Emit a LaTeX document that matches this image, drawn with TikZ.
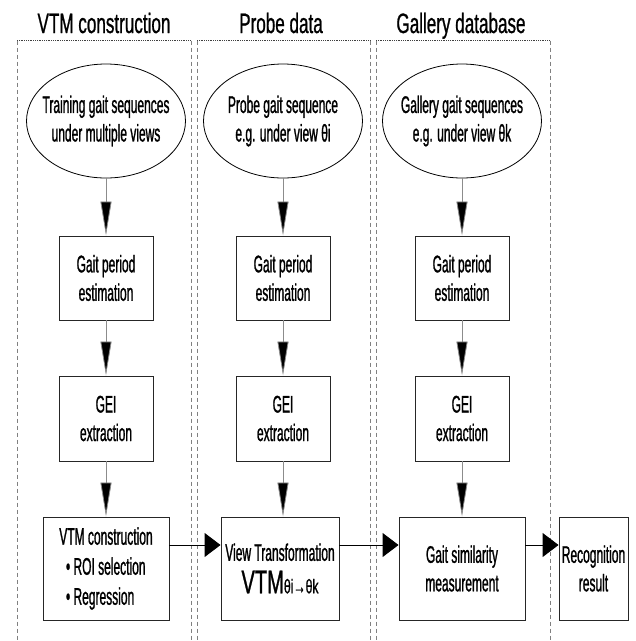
\documentclass[tikz,border=0pt]{standalone}
\usepackage{fontspec}
\setmainfont{Liberation Sans}[FakeStretch=0.5,FakeBold=1]
\newfontfamily\titlefont{Liberation Sans}[FakeStretch=0.61,FakeBold=0.8]
\usetikzlibrary{shapes.geometric,arrows.meta}

\begin{document}
\begin{tikzpicture}[x=1pt,y=-1pt,font=\fontsize{24}{28.5}\selectfont,
		paneltop/.style={black!75,densely dotted,line width=0.8pt},
		panelside/.style={black!50,dash pattern=on 4pt off 3pt,line width=0.8pt},
		title/.style={anchor=base,font=\titlefont\fontsize{28}{30}\selectfont},
		source/.style={ellipse,draw,line width=0.8pt,align=center,minimum width=159pt,minimum height=114pt,inner xsep=-12pt,inner ysep=0pt},
		stage/.style={draw=black!85,line width=0.9pt,align=center,inner sep=2pt},
		small/.style={stage,minimum width=94pt,minimum height=84pt},
		wide/.style={stage,minimum width=126pt,minimum height=103pt},
		down/.style={draw=black!45,line width=0.8pt,-{Triangle[length=34pt,width=11pt,fill=black]}},
		across/.style={draw=black,line width=0.9pt,-{Triangle[length=16pt,width=24pt]}}]
		\useasboundingbox (0,0) rectangle (636,641);
		% Define panels
		\foreach \l/\r in {17/191,197/370,376/550}{
			\draw[paneltop] (\l,40.5) -- (\r,40.5);
			\draw[panelside] (\l,40.5) -- (\l,641);
			\draw[panelside] (\r,40.5) -- (\r,641);
		}
		\node[title] (ttrain) at (104,33) {VTM construction};
		\node[title] (tprobe) at (281,33) {Probe data};
		\node[title] (tgallery) at (461,33) {Gallery database};
		% Define columns
		\node[source] (train) at (106,121) {Training gait sequences\\under multiple views};
		\node[source] (probe) at (283,121) {Probe gait sequence\\e.g. under view θi};
		\node[source] (gallery) at (462,121) {Gallery gait sequences\\e.g. under view θk};
		\node[small] (trainperiod) at (106,278) {Gait period\\estimation};
		\node[small] (probeperiod) at (283,278) {Gait period\\estimation};
		\node[small] (galleryperiod) at (462,278) {Gait period\\estimation};
		\node[small,minimum height=85pt] (traingei) at (106,418.5) {GEI\\extraction};
		\node[small,minimum height=85pt] (probegei) at (283,418.5) {GEI\\extraction};
		\node[small,minimum height=85pt] (gallerygei) at (462,418.5) {GEI\\extraction};
		\node[wide] (vtm) at (106,568.5) {VTM construction\\[1.5pt]\makebox[80pt][l]{• ROI selection}\\[1.5pt]\makebox[80pt][l]{• Regression}};
		\node[wide,minimum width=118pt] (transform) at (280,568.5) {View Transformation\\[4pt]{\titlefont\fontsize{33}{33}\selectfont VTM}{\titlefont\fontsize{20}{20}\selectfont θi→θk}};
		\node[wide] (similarity) at (462,568.5) {Gait similarity\\measurement};
		\node[wide,minimum width=69pt] (result) at (593.5,568.5) {Recognition\\result};
		% Connect
		\draw[down] (train) -- (trainperiod);
		\draw[down] (probe) -- (probeperiod);
		\draw[down] (gallery) -- (galleryperiod);
		\draw[down] (trainperiod) -- (traingei);
		\draw[down] (probeperiod) -- (probegei);
		\draw[down] (galleryperiod) -- (gallerygei);
		\draw[down] (traingei) -- (vtm);
		\draw[down] (probegei.south) -- (probegei.south |- transform.north);
		\draw[down] (gallerygei) -- (similarity);
		\draw[across] ([yshift=23.5pt]vtm.east) -- ([yshift=23.5pt]transform.west);
		\draw[across] ([yshift=23.5pt]transform.east) -- ([yshift=23.5pt]similarity.west);
		\draw[across] ([yshift=23.5pt]similarity.east) -- ([yshift=23.5pt]result.west);
	\end{tikzpicture}
\end{document}
